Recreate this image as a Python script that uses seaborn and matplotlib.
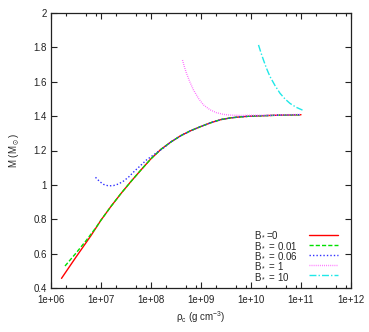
import numpy as np
import pandas as pd
import matplotlib
matplotlib.use("Agg")
import matplotlib.pyplot as plt
import matplotlib.ticker as mticker
from matplotlib.lines import Line2D
import seaborn as sns

# ---- data (log10 of central density in g cm^-3, mass in solar masses) ----
logrho_b0 = [6.21, 6.5, 6.8, 7.0, 7.2, 7.4, 7.6, 7.8, 8.0, 8.2, 8.4, 8.6, 8.8, 9.0,
             9.2, 9.4, 9.6, 9.8, 10.0, 10.3, 10.6, 11.0]
mass_b0 = [0.456, 0.580, 0.705, 0.795, 0.875, 0.950, 1.020, 1.087, 1.152, 1.207, 1.250,
           1.287, 1.316, 1.340, 1.362, 1.380, 1.390, 1.396, 1.400, 1.403, 1.406, 1.408]

logrho_b001 = [6.28, 6.5, 6.7, 6.9, 7.0, 7.2, 7.4, 7.6, 7.8, 8.0, 8.2, 8.4, 8.6, 8.8,
               9.0, 9.2, 9.4, 9.6, 9.8, 10.0, 10.3, 10.6, 11.0]
mass_b001 = [0.528, 0.603, 0.675, 0.752, 0.795, 0.875, 0.950, 1.020, 1.087, 1.152, 1.207,
             1.250, 1.287, 1.316, 1.340, 1.362, 1.380, 1.390, 1.396, 1.400, 1.403, 1.406, 1.408]

logrho_b006 = [6.89, 6.97, 7.05, 7.15, 7.25, 7.35, 7.45, 7.55, 7.67, 7.8, 7.91, 8.03,
               8.14, 8.25, 8.4, 8.6, 8.8, 9.0, 9.2, 9.4, 9.6, 9.8, 10.0, 10.3, 10.6, 11.0]
mass_b006 = [1.044, 1.020, 1.003, 0.994, 0.996, 1.005, 1.022, 1.045, 1.080, 1.115, 1.145,
             1.170, 1.193, 1.215, 1.250, 1.287, 1.316, 1.340, 1.362, 1.380, 1.390, 1.396,
             1.400, 1.403, 1.406, 1.408]

logrho_b1 = [8.63, 8.67, 8.71, 8.78, 8.85, 8.95, 9.05, 9.18, 9.31, 9.45, 9.58, 9.8,
             10.1, 10.5, 11.0]
mass_b1 = [1.726, 1.685, 1.649, 1.597, 1.552, 1.503, 1.465, 1.437, 1.420, 1.410, 1.406,
           1.404, 1.405, 1.407, 1.410]

logrho_b10 = [10.15, 10.2, 10.25, 10.31, 10.38, 10.48, 10.58, 10.68, 10.78, 10.9, 11.03]
mass_b10 = [1.814, 1.768, 1.726, 1.678, 1.630, 1.578, 1.533, 1.500, 1.474, 1.452, 1.435]

labels = ["B$_*$=0", "B$_*$ = 0.01", "B$_*$ = 0.06", "B$_*$ = 1", "B$_*$ = 10"]
colors = ["#ff0000", "#00e000", "#3030ff", "#ff60ff", "#20e8e8"]
dashes = [None, (3, 1.5), (1, 1.5), (0.6, 0.9), (5, 1.5, 1, 1.5)]

xticks_exp = [6, 7, 8, 9, 10, 11, 12]
yticks = [0.4, 0.6, 0.8, 1.0, 1.2, 1.4, 1.6, 1.8, 2.0]

sns.set_theme(style="ticks")
plt.rcParams["font.family"] = ["Liberation Sans", "DejaVu Sans"]
plt.rcParams["mathtext.default"] = "regular"

fig = plt.figure(figsize=(3.69, 3.32), dpi=100)
ax = fig.add_axes([51 / 369, 1 - 288 / 332, 300 / 369, 275 / 332])
ax.set_xscale("log")

series = [(logrho_b0, mass_b0), (logrho_b001, mass_b001), (logrho_b006, mass_b006),
          (logrho_b1, mass_b1), (logrho_b10, mass_b10)]
handles = []
for (lr, m), lab, col, d in zip(series, labels, colors, dashes):
    df = pd.DataFrame({"rho": np.power(10.0, lr), "M": m})
    sns.lineplot(data=df, x="rho", y="M", ax=ax, color=col, sort=False,
                 estimator=None, linewidth=1.0, legend=False)
    ln = ax.get_lines()[-1]
    if d is not None:
        ln.set_dashes(d)
    h = Line2D([], [], color=col, linewidth=1.0)
    if d is not None:
        h.set_dashes(d)
    handles.append(h)

ax.set_xlim(1e6, 1e12)
ax.set_ylim(0.4, 2.0)
ax.set_xticks([10.0 ** e for e in xticks_exp])
ax.xaxis.set_major_formatter(mticker.FuncFormatter(lambda v, p: "%.0e" % v))
ax.xaxis.set_minor_locator(mticker.LogLocator(base=10, subs=[2, 5, 8]))
ax.xaxis.set_minor_formatter(mticker.NullFormatter())
ax.set_yticks(yticks)
ax.yaxis.set_major_formatter(mticker.FuncFormatter(lambda v, p: "%g" % v))

ax.tick_params(which="both", direction="in", top=True, right=True, labelsize=7,
               colors="#222222", width=0.8)
ax.tick_params(which="major", length=4, pad=3)
ax.tick_params(axis="x", which="major", pad=5)
ax.tick_params(which="minor", length=2.2)
for s in ax.spines.values():
    s.set_color("#222222")
    s.set_linewidth(0.9)

ax.set_xlabel(r"$\rho_c$ (g cm$^{-3}$)", fontsize=7, labelpad=3)
ax.set_ylabel(r"M (M$_\odot$)", fontsize=7, labelpad=8)

# legend: labels left-aligned, line samples in a column to their right
common = dict(bbox_transform=fig.transFigure, frameon=False, fontsize=7,
              labelspacing=0.02, borderpad=0, borderaxespad=0)
blank = [Line2D([], [], alpha=0) for _ in labels]
leg_text = ax.legend(blank, labels, loc="upper left",
                     bbox_to_anchor=(254 / 369, 1 - 230 / 332),
                     handlelength=0, handletextpad=0, **common)
ax.add_artist(leg_text)
ax.legend(handles, [" "] * len(handles), loc="upper left",
          bbox_to_anchor=(309 / 369, 1 - 230 / 332),
          handlelength=3.0, handletextpad=0, **common)

fig.savefig("out.png", dpi=100)
